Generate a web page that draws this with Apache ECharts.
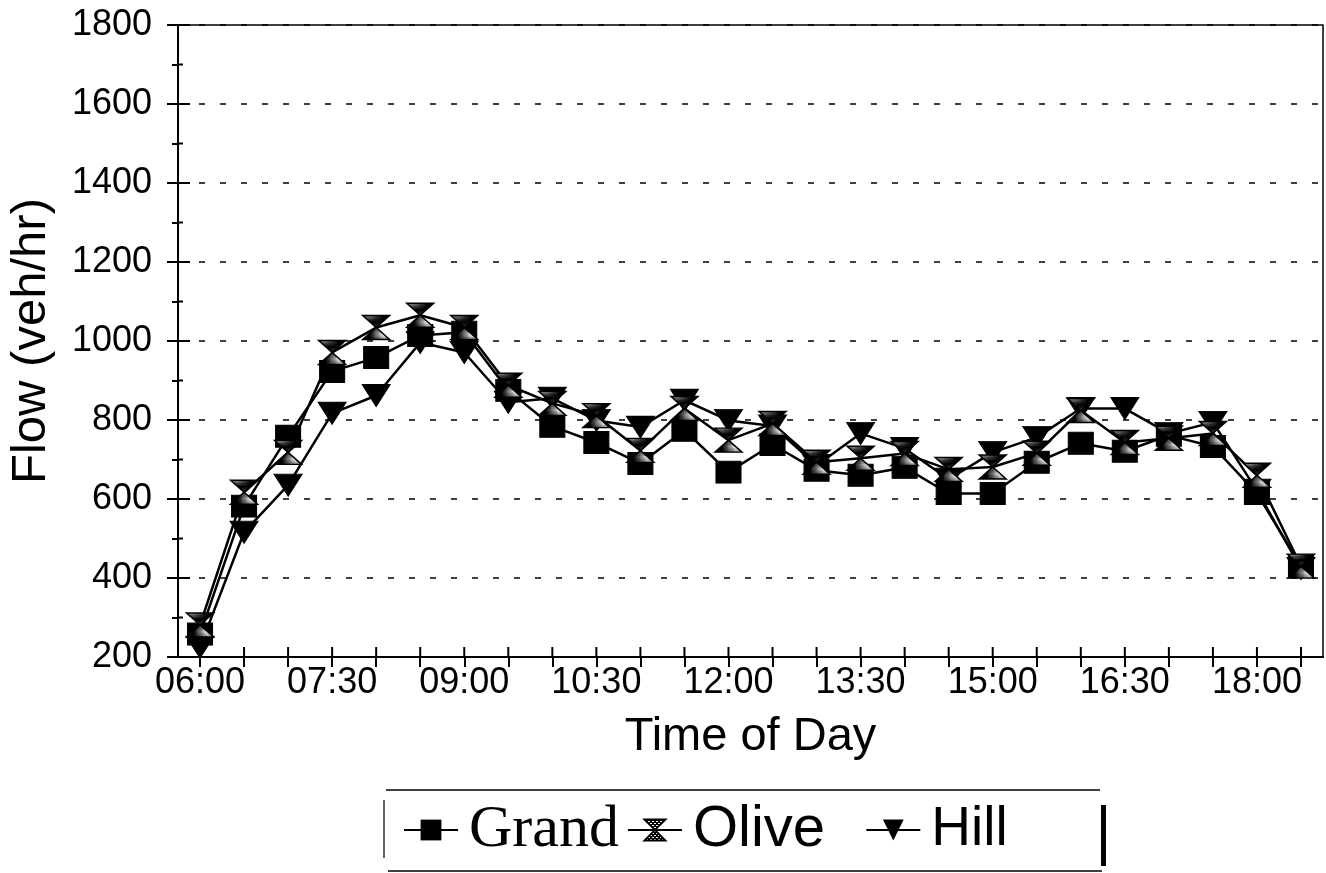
<!DOCTYPE html>
<html>
<head>
<meta charset="utf-8">
<script src="https://cdn.jsdelivr.net/npm/echarts@6/dist/echarts.min.js"></script>
<style>
html,body{margin:0;padding:0;background:#fff;}
#main{width:1326px;height:873px;}
</style>
</head>
<body>
<div id="main"></div>
<script>
const categories = ['06:00','06:30','07:00','07:30','08:00','08:30','09:00','09:30','10:00','10:30','11:00','11:30','12:00','12:30','13:00','13:30','14:00','14:30','15:00','15:30','16:00','16:30','17:00','17:30','18:00','18:30'];
const grand = [258,582,759,923,958,1014,1022,875,784,743,690,774,668,738,673,660,680,614,614,693,741,721,761,733,614,430];
const olive = [281,617,718,971,1034,1065,1034,888,842,811,723,829,749,791,693,703,715,675,681,716,824,743,754,766,660,430];
const hill  = [225,516,635,817,862,996,971,845,855,799,782,850,799,785,685,766,728,650,718,756,829,829,766,794,622,424];
const yTicks = [200,400,600,800,1000,1200,1400,1600,1800];
const yMinorTicks = [300,500,700,900,1100,1300,1500,1700];

// dotted fill pattern for the hourglass marker
const pc = document.createElement('canvas');
pc.width = 4; pc.height = 4;
const pctx = pc.getContext('2d');
pctx.fillStyle = '#000'; pctx.fillRect(0,0,4,4);
pctx.fillStyle = '#fff'; pctx.fillRect(0,0,2,1); pctx.fillRect(2,2,2,1);

const chart = echarts.init(document.getElementById('main'), null, {renderer:'canvas'});
const sans = 'Liberation Sans, Arial, Helvetica, sans-serif';
const tickStyle = {stroke:'#000', lineWidth:2};

// inner halves of the crossing ticks, placed through the axes' own scales
const xInnerTicks = categories.map(function(c){ return [c, 200]; });
const yInnerTicks = yTicks.map(function(v){ return [categories[0], v, 12]; })
  .concat(yMinorTicks.map(function(v){ return [categories[0], v, 5]; }));

const option = {
  backgroundColor:'#fff',
  animation:false,
  grid:{left:178, right:3, top:25, bottom:216, show:true, borderColor:'#000', borderWidth:1.5,
        backgroundColor:'transparent', containLabel:false, outerBoundsMode:'none'},
  xAxis:{type:'category', data:categories, boundaryGap:true,
     axisLine:{lineStyle:{color:'#000', width:2}},
     axisTick:{show:true, interval:0, alignWithLabel:true, length:10, lineStyle:{color:'#000', width:2}},
     axisLabel:{interval:2, color:'#000', fontFamily:sans, fontSize:36, margin:8},
     name:'Time of Day', nameLocation:'middle', nameGap:57,
     nameTextStyle:{color:'#000', fontFamily:sans, fontSize:47}},
  yAxis:{type:'value', min:200, max:1800, interval:200,
     axisLine:{show:true, lineStyle:{color:'#000', width:2}},
     axisTick:{show:true, length:11, lineStyle:{color:'#000', width:2}},
     minorTick:{show:true, splitNumber:2, length:6, lineStyle:{color:'#000', width:2}},
     splitLine:{show:true, lineStyle:{color:'#000', type:[6,15], width:1.6}},
     axisLabel:{color:'#000', fontFamily:sans, fontSize:36, margin:26,
       formatter:function(v){ return yTicks.indexOf(v) >= 0 ? String(v) : ''; }},
     name:'Flow (veh/hr)', nameLocation:'middle', nameGap:122,
     nameTextStyle:{color:'#000', fontFamily:sans, fontSize:49}},
  legend:{
    left:403, top:800, itemWidth:54, itemHeight:26, itemGap:8, padding:0,
    data:[
      {name:'Grand', textStyle:{fontFamily:'Liberation Serif, Times New Roman, serif', fontSize:60}},
      {name:'Olive', textStyle:{fontFamily:sans, fontSize:58}},
      {name:'Hill', textStyle:{fontFamily:sans, fontSize:55}}
    ],
    formatter:function(n){ return n === 'Olive' ? n + '  ' : n; },
    textStyle:{color:'#000', padding:[0,0,0,6]}
  },
  graphic:[
    {type:'line', shape:{x1:386, y1:790, x2:1100, y2:790}, style:{stroke:'#000', lineWidth:1.5}},
    {type:'line', shape:{x1:388, y1:871, x2:1102, y2:871}, style:{stroke:'#000', lineWidth:1.5}},
    {type:'line', shape:{x1:384, y1:800, x2:384, y2:858}, style:{stroke:'#000', lineWidth:1.2}},
    {type:'rect', shape:{x:1101, y:805, width:5, height:61}, style:{fill:'#000'}}
  ],
  series:[
    {name:'Hill', type:'line', data:hill, z:3,
     symbol:'triangle', symbolRotate:180, symbolSize:[28,22],
     lineStyle:{color:'#000', width:2.5},
     itemStyle:{color:'#000', borderColor:'#000'}},
    {name:'Grand', type:'line', data:grand, z:4,
     symbol:'rect', symbolSize:[25,22],
     lineStyle:{color:'#000', width:2.5},
     itemStyle:{color:'#000', borderColor:'#000'}},
    {name:'Olive', type:'line', data:olive, z:5,
     symbol:'path://M0,0 L10,0 L0,10 L10,10 Z', symbolSize:[27,24],
     lineStyle:{color:'#000', width:2.5},
     itemStyle:{color:{image:pc, repeat:'repeat'}, borderColor:'#000', borderWidth:1.5}},
    {name:'xInnerTicks', type:'custom', data:xInnerTicks, silent:true, clip:false, z:6,
     encode:{x:0, y:1},
     renderItem:function(params, api){
       const p = api.coord([api.value(0), api.value(1)]);
       return {type:'line', shape:{x1:p[0], y1:p[1], x2:p[0], y2:p[1]-10}, style:tickStyle};
     }},
    {name:'yInnerTicks', type:'custom', data:yInnerTicks, silent:true, clip:false, z:6,
     encode:{x:0, y:1},
     renderItem:function(params, api){
       const p = api.coord([api.value(0), api.value(1)]);
       const x0 = params.coordSys.x;
       return {type:'line', shape:{x1:x0, y1:p[1], x2:x0 + api.value(2), y2:p[1]}, style:tickStyle};
     }}
  ]
};
chart.setOption(option);
</script>
</body>
</html>
